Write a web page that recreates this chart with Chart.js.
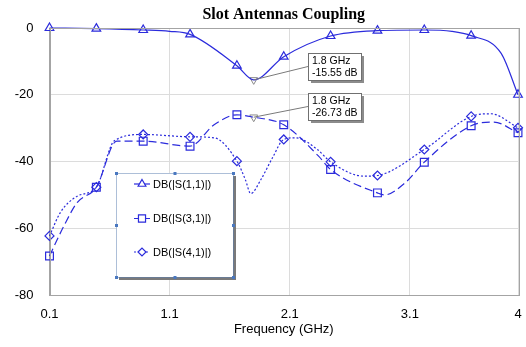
<!DOCTYPE html>
<html>
<head>
<meta charset="utf-8">
<script src="https://cdn.jsdelivr.net/npm/chart.js@4"></script>
<style>
html,body{margin:0;padding:0;background:#fff;}
#c{display:block;}
</style>
</head>
<body>
<canvas id="c" width="526" height="347"></canvas>
<script>
// ---- data ----
const titleText = 'Slot Antennas Coupling';
const xTitle = 'Frequency (GHz)';
const xTicks = [0.1, 1.1, 2.1, 3.1, 4];
const yTicks = [0, -20, -40, -60, -80];
const markerFreqs = [0.1, 0.49, 0.88, 1.27, 1.66, 2.05, 2.44, 2.83, 3.22, 3.61, 4.0];

const s11Freq = [0.1, 0.49, 0.88, 1.1, 1.27, 1.66, 1.8, 2.05, 2.44, 2.83, 3.22, 3.45, 3.61, 3.86, 4.0];
const s11Val  = [0, -0.2, -0.6, -1.0, -1.9, -11.3, -15.55, -8.6, -2.4, -0.8, -0.6, -1.0, -2.3, -7.6, -20.0];

const s31Freq = [0.1, 0.22, 0.33, 0.49, 0.66, 0.88, 1.27, 1.47, 1.66, 1.8, 2.05, 2.34, 2.44, 2.83, 2.89, 3.06, 3.22, 3.61, 3.8, 4.0];
const s31Val  = [-68.3, -59.3, -52.3, -47.7, -33.9, -33.9, -35.4, -29.0, -26.0, -26.73, -29.0, -38.4, -42.4, -49.4, -50.0, -46.4, -40.2, -29.3, -28.2, -31.4];

const s41Freq = [0.1, 0.19, 0.33, 0.49, 0.64, 0.88, 1.27, 1.47, 1.66, 1.73, 1.775, 1.86, 1.956, 2.05, 2.15, 2.33, 2.44, 2.72, 2.83, 3.22, 3.61, 3.775, 4.0];
const s41Val  = [-62.3, -55.3, -50.4, -47.7, -33.8, -31.9, -32.6, -32.9, -39.9, -45.4, -49.6, -45.4, -38.9, -33.4, -32.9, -36.4, -40.1, -44.4, -44.2, -36.4, -26.5, -25.7, -29.9];

const seriesNames = ['DB(|S(1,1)|)', 'DB(|S(3,1)|)', 'DB(|S(4,1)|)'];
const annFreq = [1.8, 1.8];
const annVal  = [-15.55, -26.73];

// ---- styles ----
const BLUE = '#2b2bdc';
const FONT = "'Liberation Sans', Arial, sans-serif";
const styles = [
  {dash: [], point: 'triangle', r: 5},
  {dash: [8, 4], point: 'rect', r: 5.5},
  {dash: [2, 2], point: 'rectRot', r: 4.5}
];

function pts(fs, vs){ return fs.map((f,i)=>({x:f, y:vs[i]})); }
function mkDataset(i, fs, vs){
  const st = styles[i];
  return {
    label: seriesNames[i],
    data: pts(fs, vs),
    borderColor: BLUE,
    backgroundColor: 'rgba(0,0,0,0)',
    borderWidth: 1.2,
    borderDash: st.dash,
    cubicInterpolationMode: 'monotone',
    pointStyle: st.point,
    pointBorderColor: BLUE,
    pointBackgroundColor: 'rgba(0,0,0,0)',
    pointBorderWidth: 1.2,
    pointRadius: ctx => (ctx.raw && markerFreqs.includes(ctx.raw.x)) ? st.r : 0,
    pointHoverRadius: 0,
    clip: false
  };
}

const datasets = [
  mkDataset(0, s11Freq, s11Val),
  mkDataset(1, s31Freq, s31Val),
  mkDataset(2, s41Freq, s41Val),
  {
    label: 'markers',
    data: pts(annFreq, annVal),
    showLine: false,
    pointStyle: 'triangle',
    rotation: 180,
    pointRadius: 4.5,
    pointBorderColor: '#8a8a8a',
    pointBackgroundColor: 'rgba(0,0,0,0)',
    pointBorderWidth: 1
  }
];

const decor = {
  id: 'decor',
  afterDraw(chart){
    const ctx = chart.ctx;
    const ca = chart.chartArea;
    const xs = chart.scales.x, ys = chart.scales.y;
    ctx.save();
    // frame
    ctx.strokeStyle = '#a4a4a4';
    ctx.lineWidth = 1;
    ctx.strokeRect(Math.round(ca.left)+0.5, Math.round(ca.top)+0.5, Math.round(ca.right-ca.left), Math.round(ca.bottom-ca.top));
    // title
    ctx.fillStyle = '#000';
    ctx.font = "bold 16px 'Liberation Serif', 'Times New Roman', serif";
    ctx.textAlign = 'center';
    ctx.textBaseline = 'middle';
    ctx.fillText(titleText, (ca.left+ca.right)/2, 15);

    // annotations
    const boxOff = [[54, -27], [54, -24]];
    annFreq.forEach((f, i) => {
      const px = xs.getPixelForValue(f), py = ys.getPixelForValue(annVal[i]);
      const bx = Math.round(px + boxOff[i][0]), by = Math.round(py + boxOff[i][1]);
      const bw = 53, bh = 27;
      ctx.strokeStyle = '#7a7a7a';
      ctx.lineWidth = 1;
      ctx.beginPath();
      ctx.moveTo(px, py);
      ctx.lineTo(bx, by + bh/2);
      ctx.stroke();
      ctx.fillStyle = '#8c8c8c';
      ctx.fillRect(bx + 3, by + 3, bw, bh);
      ctx.fillStyle = '#fff';
      ctx.fillRect(bx, by, bw, bh);
      ctx.strokeStyle = '#707070';
      ctx.strokeRect(bx + 0.5, by + 0.5, bw, bh);
      ctx.fillStyle = '#000';
      ctx.font = "10.5px " + FONT;
      ctx.textAlign = 'left';
      ctx.textBaseline = 'middle';
      ctx.fillText(f + ' GHz', bx + 4, by + 8);
      ctx.fillText(annVal[i].toFixed(2) + ' dB', bx + 4, by + 20);
    });

    // legend box
    const lx = 116, ly = 173, lw = 117, lh = 104;
    ctx.fillStyle = '#7a7a7a';
    ctx.fillRect(lx + 3, ly + 3, lw, lh);
    ctx.fillStyle = '#fff';
    ctx.fillRect(lx, ly, lw, lh);
    ctx.strokeStyle = '#5a7fb0';
    ctx.setLineDash([1, 1]);
    ctx.strokeRect(lx + 0.5, ly + 0.5, lw, lh);
    ctx.setLineDash([]);
    ctx.fillStyle = '#4a78c0';
    [[0,0],[0.5,0],[1,0],[0,0.5],[1,0.5],[0,1],[0.5,1],[1,1]].forEach(([a,b]) => {
      ctx.fillRect(lx + a*lw - 1, ly + b*lh - 1, 3, 3);
    });
    const rowY = [184, 218.5, 252];
    seriesNames.forEach((name, i) => {
      const st = styles[i];
      const y = rowY[i];
      ctx.strokeStyle = BLUE;
      ctx.lineWidth = 1.2;
      ctx.setLineDash(i === 1 ? [4, 2] : (i === 2 ? [2, 2] : []));
      ctx.beginPath();
      ctx.moveTo(lx + 18, y);
      ctx.lineTo(lx + 34, y);
      ctx.stroke();
      ctx.setLineDash([]);
      ctx.fillStyle = '#fff';
      ctx.strokeStyle = BLUE;
      ctx.lineWidth = 1.2;
      Chart.helpers.drawPoint(ctx, {pointStyle: st.point, radius: st.r - 0.5, borderWidth: 1.2, rotation: 0}, lx + 26, y);
      ctx.fillStyle = '#000';
      ctx.font = "11px " + FONT;
      ctx.textAlign = 'left';
      ctx.textBaseline = 'middle';
      ctx.fillText(name, lx + 37, y + 0.5);
    });
    ctx.restore();
  }
};

new Chart(document.getElementById('c'), {
  type: 'line',
  data: {datasets},
  options: {
    responsive: false,
    animation: false,
    events: [],
    layout: {padding: {left: 0, right: 8, top: 28, bottom: 0}},
    plugins: {legend: {display: false}, tooltip: {enabled: false}, title: {display: false}},
    scales: {
      x: {
        type: 'linear', min: 0.1, max: 4,
        afterBuildTicks: s => { s.ticks = xTicks.map(v => ({value: v})); },
        afterFit: s => { s.height = 52; s.paddingLeft = 0; s.paddingRight = 0; },
        ticks: {autoSkip: false, maxRotation: 0, padding: 12, color: '#000', font: {family: FONT, size: 13}, callback: v => String(v)},
        grid: {color: '#dcdcdc', drawTicks: false},
        border: {color: '#a4a4a4'},
        title: {display: true, text: xTitle, color: '#000', font: {family: FONT, size: 13}, padding: {top: 0, bottom: 10}}
      },
      y: {
        type: 'linear', min: -80, max: 0,
        afterBuildTicks: s => { s.ticks = yTicks.map(v => ({value: v})); },
        afterFit: s => { s.width = 49.5; s.paddingTop = 0; s.paddingBottom = 0; },
        ticks: {padding: 16, color: '#000', font: {family: FONT, size: 13}},
        grid: {color: '#dcdcdc', drawTicks: false},
        border: {color: '#a4a4a4'}
      }
    }
  },
  plugins: [decor]
});
</script>
</body>
</html>
